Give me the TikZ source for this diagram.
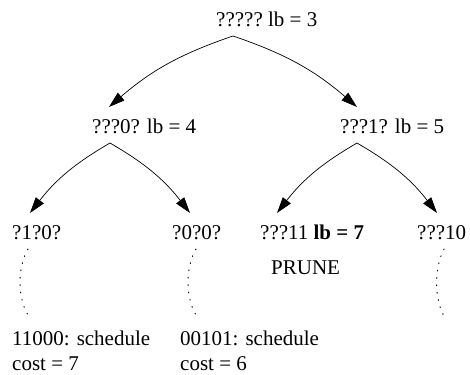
\documentclass[tikz,border=0pt]{standalone}
\usepackage{fontspec}
\setmainfont{Liberation Serif}
\usetikzlibrary{arrows.meta}
\tikzset{
  lbl/.style={anchor=base west, inner sep=0pt, font=\fontsize{21}{25}\selectfont},
  arr/.style={-{Triangle[length=16pt,width=10pt]}, line width=0.7pt},
  dots/.style={line width=0.9pt, dash pattern=on 0.9pt off 6.5pt, line cap=round}
}
\begin{document}
\begin{tikzpicture}[x=1pt,y=-1pt]
\useasboundingbox (0,0) rectangle (470,374);
% text nodes
\node[lbl] (root) at (216,27) {?????\ lb = 3};
\node[lbl] (n0) at (92,133) {???0? lb = 4};
\node[lbl] (n1) at (340,133) {???1? lb = 5};
\node[lbl] (n00) at (12,239) {?1?0?};
\node[lbl] (n01) at (172,239) {?0?0?};
\node[lbl] (n11) at (260,239) {???11 \textbf{lb = 7}};
\node[lbl] (n10) at (417,239) {???10};
\node[lbl] (pr) at (271,274) {PRUNE};
\node[lbl] (s1) at (12,345) {11000: schedule};
\node[lbl] (c1) at (12,370) {cost = 7};
\node[lbl] (s2) at (180,345) {00101: schedule};
\node[lbl] (c2) at (180,370) {cost = 6};
% connector end points
\coordinate (rA) at (233,36);
\coordinate (n0T) at (109,107);
\coordinate (n1T) at (357,107);
\coordinate (n0A) at (110,143);
\coordinate (n1A) at (357,143);
\coordinate (n00T) at (30,213);
\coordinate (n01T) at (190,213);
\coordinate (n11T) at (277,213);
\coordinate (n10T) at (437,213);
\coordinate (d1a) at (28,249);
\coordinate (d1b) at (30,318);
\coordinate (d2a) at (196,249);
\coordinate (d2b) at (198,318);
\coordinate (d3a) at (444,249);
\coordinate (d3b) at (445,318);
% arrows
\draw[arr] (rA) to[bend right=11] (n0T);
\draw[arr] (rA) to[bend left=11] (n1T);
\draw[arr] (n0A) to[bend right=11] (n00T);
\draw[arr] (n0A) to[bend left=11] (n01T);
\draw[arr] (n1A) to[bend right=11] (n11T);
\draw[arr] (n1A) to[bend left=11] (n10T);
% dotted continuations
\draw[dots] (d1a) .. controls (17,268) and (17,300) .. (d1b);
\draw[dots] (d2a) .. controls (185,268) and (185,300) .. (d2b);
\draw[dots] (d3a) .. controls (434,268) and (434,300) .. (d3b);
\end{tikzpicture}
\end{document}
